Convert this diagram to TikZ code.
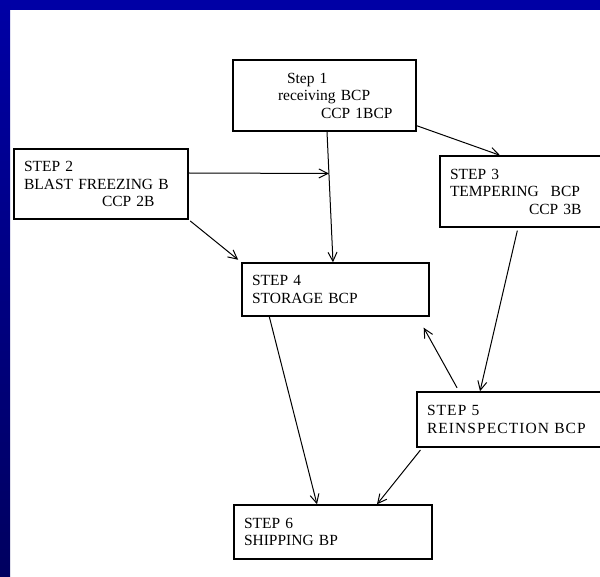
\documentclass[tikz,border=0pt]{standalone}
\usepackage{fontspec}
\setmainfont{Liberation Serif}
\usepackage{tikz}
\usetikzlibrary{arrows.meta}
\usetikzlibrary{calc}
\definecolor{slideblue}{RGB}{0,0,165}
\definecolor{slidenavy}{RGB}{0,0,95}

\begin{document}
\begin{tikzpicture}[x=1pt, y=-1pt,
  stepbox/.style={draw, line width=1.4pt, rectangle, inner xsep=10pt, align=left,
    font=\fontsize{15.5}{17.5}\selectfont}]
\tikzset{edge/.style = {-{Straight Barb[length=9pt, width=9pt]}, line width=1pt}}
\clip (0,0) rectangle (600,577);
\fill[white] (0,0) rectangle (600,577);
\fill[slideblue] (0,0) rectangle (600,10.5);
\shade[top color=slideblue, bottom color=slidenavy] (0,0) rectangle (10,577);
\node[stepbox, minimum width=183pt, minimum height=71pt, text width=163pt] (s1) at (324.5,95.5)
  {\hspace*{44pt}Step 1\\\hspace*{35pt}receiving BCP\\\hspace*{78pt}CCP 1BCP};
\node[stepbox, minimum width=174pt, minimum height=70pt, text width=154pt] (s2) at (101,184)
  {STEP 2\\BLAST FREEZING B\\\hspace*{78pt}CCP 2B};
\node[stepbox, minimum width=170pt, minimum height=71pt, text width=150pt] (s3) at (525,191.5)
  {STEP 3\\TEMPERING\hspace{12pt}BCP\\\hspace*{79pt}CCP 3B};
\node[stepbox, minimum width=187pt, minimum height=53pt, text width=167pt] (s4) at (335.5,289.5)
  {STEP 4\\STORAGE BCP};
\node[stepbox, minimum width=193pt, minimum height=55pt, text width=173pt] (s5) at (513.5,419.5)
  {\addfontfeatures{LetterSpace=7}STEP 5\\REINSPECTION BCP};
\node[stepbox, minimum width=198pt, minimum height=54pt, text width=178pt] (s6) at (333,532)
  {STEP 6\\SHIPPING BP};
\coordinate (j) at ($([xshift=2.5pt]s1.south)!0.32!([xshift=-2.5pt]s4.north)$);
\coordinate (r) at ([xshift=-6pt, yshift=-11pt]s4.south east);
\draw[edge] ([xshift=2.5pt]s1.south) -- ([xshift=-2.5pt]s4.north);
\draw[edge] ([yshift=11pt]s2.east) -- (j);
\draw[edge, shorten <=2pt, shorten >=4pt] (s2.south east) -- (s4.north west);
\draw[edge] ([yshift=6pt]s1.south east) -- ([xshift=-25pt]s3.north);
\draw[edge, shorten <=3pt] ([xshift=-7pt]s3.south) -- ([xshift=-33.5pt]s5.north);
\draw[edge, shorten <=4pt] ([xshift=-54.5pt]s5.north) -- (r);
\draw[edge] ([xshift=28pt]s4.south west) -- ([xshift=-16pt]s6.north);
\draw[edge, shorten <=3pt] ([xshift=6pt]s5.south west) -- ([xshift=44pt]s6.north);
\end{tikzpicture}
\end{document}
